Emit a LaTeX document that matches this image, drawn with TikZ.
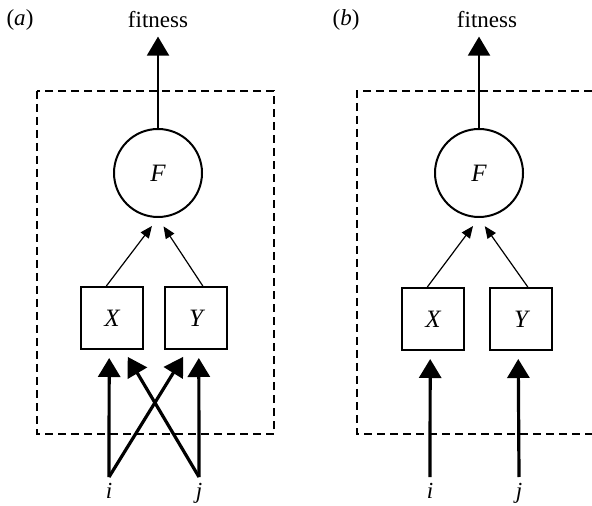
\documentclass[tikz,border=0pt]{standalone}
\usepackage{fontspec}
\setmainfont{Liberation Serif}
\usetikzlibrary{arrows.meta}

\tikzstyle{tag} = [font=\fontsize{11.5}{14}\selectfont, inner sep=1pt]
\tikzstyle{var tag} = [font=\fontsize{11.5}{14}\selectfont\itshape, inner sep=3pt, anchor=north]
\tikzstyle{trait} = [draw, line width=1pt, minimum size=31pt, inner sep=0pt, font=\fontsize{12.5}{14}\selectfont\itshape]
\tikzstyle{fitfun} = [draw, circle, line width=1pt, minimum size=44pt, inner sep=0pt, font=\fontsize{12.5}{14}\selectfont\itshape]
\tikzstyle{thin arrow} = [draw, line width=0.6pt, -{Triangle[length=6pt,width=5pt]}, shorten >=5pt]
\tikzstyle{thick arrow} = [draw, line width=1.6pt, -{Triangle[length=9.5pt,width=11pt]}, shorten >=4pt]
\tikzstyle{boundary} = [draw, line width=1pt, dash pattern=on 4pt off 2.5pt]

\begin{document}
\begin{tikzpicture}[x=0.5pt, y=-0.5pt]
    \useasboundingbox (0,0) rectangle (592,506);
    %% texts
    \foreach \name/\x/\y/\txt in {
      apanel/20/20/(\textit{a}), afit/158/20/fitness,
      bpanel/346/20/(\textit{b}), bfit/487/20/fitness}
    {
      \node[tag] (\name) at (\x,\y) {\txt};
    }
    \foreach \name/\x/\txt in {ai/109/i, aj/199/j, bi/430/i, bj/519/j}
    {
      \node[var tag] (\name) at (\x,477) {\txt};
    }
    %% nodes
    \foreach \name/\x/\y/\kind/\txt in {
      aF/158/173/fitfun/F, aX/112/318/trait/X, aY/196/318/trait/Y,
      bF/479/173/fitfun/F, bX/433/319/trait/X, bY/521/319/trait/Y}
    {
      \node[\kind] (\name) at (\x,\y) {\txt};
    }
    %% boundaries
    \draw[boundary] (37,91) rectangle (274,434);
    \draw[boundary] (592,91) -| (357,434) -- (592,434);
    %% edges
    \foreach \p in {a,b}
    {
      \draw[thick arrow, line width=1pt, shorten >=3pt] (\p F.north) -- (\p F.north |- \p fit.south);
      \draw[thin arrow] (\p X.100) -- (\p F.south);
      \draw[thin arrow] (\p Y.78) -- (\p F.south);
    }
    \path
    \foreach \startnode/\endnode in {
      ai/aX.265, ai/aY.255, aj/aY.275, aj/aX.290, bi/bX.265, bj/bY.265}
    {
      (\startnode.north) edge[thick arrow] (\endnode)
    };
\end{tikzpicture}
\end{document}
